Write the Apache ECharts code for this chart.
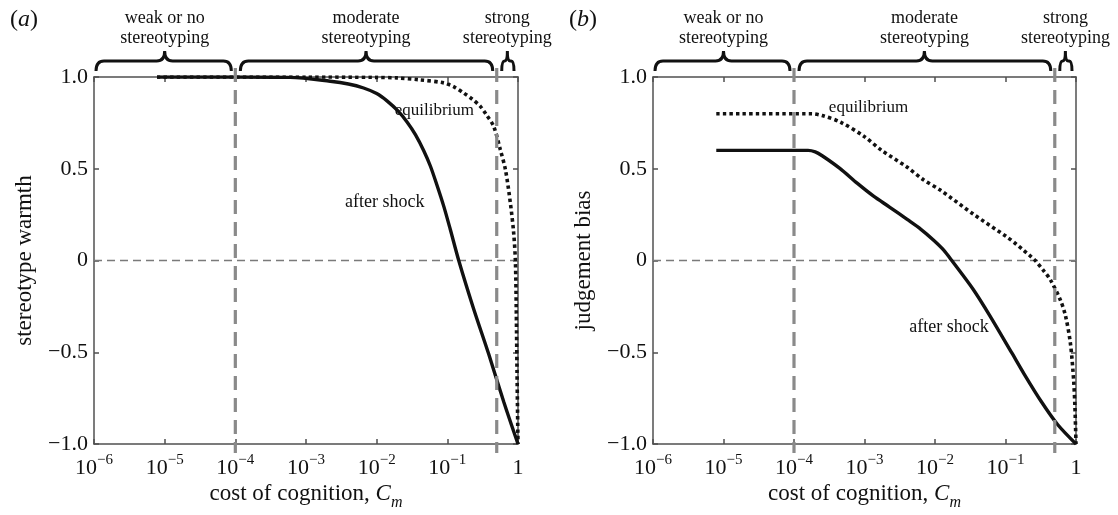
<!DOCTYPE html>
<html><head><meta charset="utf-8">
<script src="https://cdn.jsdelivr.net/npm/echarts@6/dist/echarts.min.js"></script>
<style>html,body{margin:0;padding:0;background:#fff}#c{width:1118px;height:515px}</style>
</head><body><div id="c"></div>
<script>
// ---------- data ----------
const xTickLabels = ['10{sup|−6}','10{sup|−5}','10{sup|−4}','10{sup|−3}','10{sup|−2}','10{sup|−1}','1'];
const yTicks = [-1, -0.5, 0, 0.5, 1];
const yTickLabels = ['−1.0','−0.5','0','0.5','1.0'];

// panel (a): stereotype warmth
const aAfterX = [7.8e-6, 1e-4, 6.0e-4, 2.2e-3, 3.98e-3, 6.53e-3, 0.01, 0.014, 0.02, 0.0269, 0.0355, 0.0462, 0.0575, 0.0714, 0.0891, 0.110, 0.145, 0.234, 0.385, 0.628, 1];
const aAfterY = [1.0, 1.0, 0.998, 0.977, 0.962, 0.94, 0.91, 0.87, 0.815, 0.755, 0.685, 0.60, 0.515, 0.41, 0.295, 0.17, 0.0, -0.26, -0.51, -0.77, -1.0];
const aEqX = [7.8e-6, 1e-3, 0.01, 0.0194, 0.0398, 0.0887, 0.126, 0.17, 0.224, 0.293, 0.363, 0.453, 0.562, 0.664, 0.78, 0.869, 0.918, 0.944, 0.968, 1];
const aEqY = [1.0, 1.0, 0.998, 0.995, 0.985, 0.968, 0.945, 0.913, 0.88, 0.84, 0.79, 0.731, 0.604, 0.495, 0.313, 0.149, 0.0, -0.25, -0.6, -1.0];

// panel (b): judgement bias
const bAfterX = [7.9e-6, 1.58e-4, 2.0e-4, 2.51e-4, 4.47e-4, 7.94e-4, 1.33e-3, 2.29e-3, 3.98e-3, 6.31e-3, 9.48e-3, 0.0132, 0.0173, 0.0351, 0.0607, 0.123, 0.184, 0.318, 0.548, 1];
const bAfterY = [0.6, 0.6, 0.592, 0.571, 0.502, 0.42, 0.352, 0.29, 0.225, 0.17, 0.112, 0.058, 0.0, -0.159, -0.304, -0.504, -0.619, -0.766, -0.894, -1.0];
const bEqX = [7.9e-6, 1.78e-4, 2.51e-4, 4.56e-4, 1e-3, 1.75e-3, 3.98e-3, 6.84e-3, 0.01175, 0.0351, 0.105, 0.141, 0.178, 0.224, 0.264, 0.355, 0.432, 0.598, 0.708, 0.832, 0.925, 0.966, 1];
const bEqY = [0.8, 0.8, 0.79, 0.754, 0.675, 0.6, 0.51, 0.44, 0.385, 0.252, 0.128, 0.09, 0.058, 0.025, 0.0, -0.06, -0.104, -0.214, -0.3, -0.45, -0.65, -0.8, -1.0];

// regimes
const regionStart = [1e-6, 1e-4, 0.5];
const regionEnd = [1e-4, 0.5, 1];
const regionLabels = ['weak or no\nstereotyping', 'moderate\nstereotyping', 'strong\nstereotyping'];
const boundaries = [1e-4, 0.5];

// curve annotations
const annText = ['equilibrium', 'after shock'];
const aAnnX = [0.0655, 0.013], aAnnY = [0.817, 0.32];
const bAnnX = [1.14e-3, 0.0158], bAnnY = [0.836, -0.365];

const yNames = ['stereotype warmth', 'judgement bias'];
const panelLabels = ['({i|a})', '({i|b})'];

// ---------- chart ----------
const FONT = "'Liberation Serif','Times New Roman',serif";
const AX = '#505050';
const zip = (xs, ys) => xs.map((x, i) => [x, ys[i]]);

function xAxes(gi) {
  return [{
    type: 'log', logBase: 10, min: 1e-6, max: 1, gridIndex: gi, position: 'bottom',
    splitNumber: 6,
    axisLine: {onZero: false, lineStyle: {color: AX, width: 1.5}},
    axisTick: {inside: true, length: 5, lineStyle: {color: AX, width: 1.5}},
    splitLine: {show: false}, minorTick: {show: false},
    axisLabel: {
      margin: 9, color: '#111', fontFamily: FONT, fontSize: 22, lineHeight: 30,
      formatter: v => xTickLabels[Math.round(Math.log10(v)) + 6],
      rich: {sup: {fontSize: 15, fontFamily: FONT, color: '#111', verticalAlign: 'top', lineHeight: 30}}
    },
    name: '{n|cost of cognition, }{i|C}{s|m}', nameLocation: 'middle', nameGap: 33,
    nameMoveOverlap: false,
    nameTextStyle: {rich: {
      n: {fontSize: 23, fontFamily: FONT, color: '#111', lineHeight: 34, verticalAlign: 'middle'},
      i: {fontSize: 23, fontFamily: FONT, color: '#111', fontStyle: 'italic', lineHeight: 34, verticalAlign: 'middle'},
      s: {fontSize: 16, fontFamily: FONT, color: '#111', fontStyle: 'italic', lineHeight: 34, verticalAlign: 'bottom'}
    }}
  }, {
    type: 'log', logBase: 10, min: 1e-6, max: 1, gridIndex: gi, position: 'top', splitNumber: 6,
    axisLine: {onZero: false, lineStyle: {color: AX, width: 1.5}},
    axisTick: {inside: true, length: 5, lineStyle: {color: AX, width: 1.5}},
    axisLabel: {show: false}, splitLine: {show: false}
  }];
}
function yAxes(gi) {
  return [{
    type: 'value', min: -1, max: 1, interval: 0.5, gridIndex: gi, position: 'left',
    axisLine: {show: true, onZero: false, lineStyle: {color: AX, width: 1.5}},
    axisTick: {show: true, inside: true, length: 5, lineStyle: {color: AX, width: 1.5}},
    splitLine: {show: false},
    axisLabel: {margin: 6, color: '#111', fontFamily: FONT, fontSize: 22,
      formatter: v => yTickLabels[yTicks.indexOf(v)]},
    name: yNames[gi], nameLocation: 'middle', nameGap: 58, nameRotate: 90,
    nameTextStyle: {color: '#111', fontFamily: FONT, fontSize: 23}
  }, {
    type: 'value', min: -1, max: 1, interval: 0.5, gridIndex: gi, position: 'right',
    axisLine: {show: true, onZero: false, lineStyle: {color: AX, width: 1.5}},
    axisTick: {show: true, inside: true, length: 5, lineStyle: {color: AX, width: 1.5}},
    axisLabel: {show: false}, splitLine: {show: false}
  }];
}

function curve(data, xi, yi, dotted, withZero) {
  const s = {
    type: 'line', data, xAxisIndex: xi, yAxisIndex: yi, showSymbol: false, symbol: 'none',
    smooth: 0.3, z: 3, silent: true,
    lineStyle: {color: '#111', width: dotted ? 3.6 : 3.4, type: dotted ? [3.4, 3.2] : 'solid', cap: 'butt'}
  };
  if (withZero) s.markLine = {silent: true, symbol: 'none', label: {show: false}, z: 1,
    lineStyle: {type: [8, 5], color: '#7a7a7a', width: 1.3}, data: [{yAxis: 0}]};
  return s;
}

function boundarySeries(xi, yi) {
  return {
    type: 'custom', xAxisIndex: xi, yAxisIndex: yi, clip: false, z: 5, silent: true,
    data: boundaries.map(b => [b, 1]), encode: {x: 0, y: 1},
    renderItem: (p, api) => {
      const t = api.coord([api.value(0), 1]);
      const b = api.coord([api.value(0), -1]);
      return {type: 'line', shape: {x1: t[0], y1: t[1] - 9, x2: b[0], y2: b[1] + 9},
        style: {stroke: '#8a8a8a', lineWidth: 3.2, lineDash: [14, 8]}};
    }
  };
}

function braceSeries(xi, yi) {
  return {
    type: 'custom', xAxisIndex: xi, yAxisIndex: yi, clip: false, z: 5, silent: true,
    data: regionStart.map((s, i) => [s, regionEnd[i], 1]), encode: {x: [0, 1], y: 2},
    renderItem: (p, api) => {
      const p1 = api.coord([api.value(0), 1]);
      const p2 = api.coord([api.value(1), 1]);
      const top = p1[1];
      const a = p1[0] + (p.dataIndex === 0 ? 2 : 5), b = p2[0] - 4;
      const m = (p1[0] + p2[0]) / 2;
      const yEnd = top - 6, yH = top - 16, yTip = top - 26;
      const r = Math.min(8, (m - a) / 2);
      const d = `M${a},${yEnd} Q${a},${yH} ${a + r},${yH} L${m - r},${yH} Q${m},${yH} ${m},${yTip} ` +
                `Q${m},${yH} ${m + r},${yH} L${b - r},${yH} Q${b},${yH} ${b},${yEnd}`;
      return {type: 'group', children: [
        {type: 'path', shape: {pathData: d}, style: {stroke: '#111', lineWidth: 3, fill: 'none'}},
        {type: 'text', style: {text: regionLabels[p.dataIndex], x: m, y: yTip - 3, align: 'center',
          verticalAlign: 'bottom', fontSize: 18, lineHeight: 20, fontFamily: FONT, fill: '#111'}}
      ]};
    }
  };
}

function annSeries(xi, yi, xs, ys) {
  return {
    type: 'custom', xAxisIndex: xi, yAxisIndex: yi, clip: false, z: 6, silent: true,
    data: xs.map((x, i) => [x, ys[i]]), encode: {x: 0, y: 1},
    renderItem: (p, api) => {
      const c = api.coord([api.value(0), api.value(1)]);
      return {type: 'text', style: {text: annText[p.dataIndex], x: c[0], y: c[1], align: 'center',
        verticalAlign: 'middle', fontSize: p.dataIndex === 0 ? 17 : 18, fontFamily: FONT, fill: '#111'}};
    }
  };
}

const chart = echarts.init(document.getElementById('c'), null, {renderer: 'canvas'});
chart.setOption({
  animation: false,
  backgroundColor: '#fff',
  title: [0, 1].map(i => ({
    text: panelLabels[i], left: i === 0 ? 5 : 564, top: 3,
    textStyle: {fontSize: 24, fontWeight: 'normal', fontFamily: FONT, color: '#111',
      rich: {i: {fontSize: 24, fontStyle: 'italic', fontFamily: FONT, color: '#111'}}}
  })),
  grid: [
    {left: 94, width: 424, top: 77, height: 367, containLabel: false, outerBoundsMode: 'none'},
    {left: 653, width: 423, top: 77, height: 367, containLabel: false, outerBoundsMode: 'none'}
  ],
  xAxis: [...xAxes(0), ...xAxes(1)],
  yAxis: [...yAxes(0), ...yAxes(1)],
  series: [
    curve(zip(aEqX, aEqY), 0, 0, true, true),
    curve(zip(aAfterX, aAfterY), 0, 0, false, false),
    curve(zip(bEqX, bEqY), 2, 2, true, true),
    curve(zip(bAfterX, bAfterY), 2, 2, false, false),
    boundarySeries(0, 0), boundarySeries(2, 2),
    braceSeries(0, 0), braceSeries(2, 2),
    annSeries(0, 0, aAnnX, aAnnY), annSeries(2, 2, bAnnX, bAnnY)
  ]
});
</script></body></html>
